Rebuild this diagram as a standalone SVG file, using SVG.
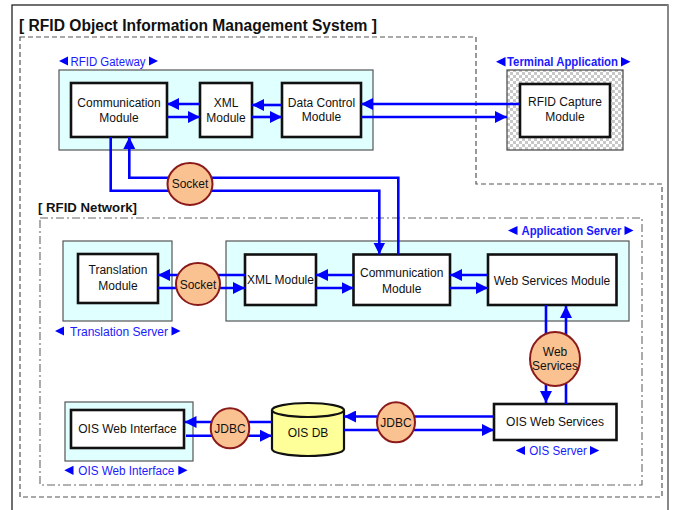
<svg xmlns="http://www.w3.org/2000/svg" width="677" height="510" viewBox="0 0 677 510">
  <defs>
    <style>
      .t { font-family: "Liberation Sans", Arial, sans-serif; font-size: 12px; fill: #111; text-anchor: middle; }
      .lbl { font-family: "Liberation Sans", Arial, sans-serif; font-size: 12px; fill: #1a1aff; }
      .lblb { font-family: "Liberation Sans", Arial, sans-serif; font-size: 12px; fill: #1a1aff; font-weight: bold; }
      .tri { fill: #0000ff; }
      .host { fill: #e0ffff; stroke: #555; stroke-width: 1.2; }
      .mod { fill: #fff; stroke: #111; stroke-width: 2.6; }
      .port { fill: #fbc291; stroke: #8b1a1a; stroke-width: 2; }
      .link { fill: none; stroke: #0000ff; stroke-width: 2.6; marker-end: url(#ah); }
      .link0 { fill: none; stroke: #0000ff; stroke-width: 2.6; }
    </style>
    <marker id="ah" markerUnits="userSpaceOnUse" markerWidth="12" markerHeight="12" viewBox="0 0 10 10" refX="10" refY="5" orient="auto">
      <path d="M0,0 L10,5 L0,10 Z" fill="#0000ff"/>
    </marker>
    <pattern id="checker" width="6" height="6" patternUnits="userSpaceOnUse">
      <rect width="6" height="6" fill="#fff"/>
      <rect width="3" height="3" fill="#c8c8c8"/>
      <rect x="3" y="3" width="3" height="3" fill="#c8c8c8"/>
    </pattern>
  </defs>

  <rect width="677" height="510" fill="#fff"/>

  <!-- page frame -->
  <rect x="12" y="5" width="656" height="515" fill="none" stroke="#111" stroke-width="1.2"/>
  <line x1="668" y1="5" x2="668" y2="510" stroke="#888" stroke-width="2"/>

  <text x="19" y="31" font-family="Liberation Sans, Arial, sans-serif" font-size="16" font-weight="bold" fill="#111" textLength="358" lengthAdjust="spacingAndGlyphs">[ RFID Object Information Management System ]</text>

  <!-- system boundary (dashed) -->
  <path d="M20,37 H476 V184 H662 V497 H20 Z" fill="none" stroke="#555" stroke-width="1.2" stroke-dasharray="5,3"/>

  <!-- RFID network boundary (dash-dot) -->
  <text x="38" y="212" font-family="Liberation Sans, Arial, sans-serif" font-size="13" font-weight="bold" fill="#111" textLength="99" lengthAdjust="spacingAndGlyphs">[ RFID Network]</text>
  <rect x="40" y="218" width="602" height="267" fill="none" stroke="#666" stroke-width="1.1" stroke-dasharray="8,3,2,3"/>

  <!-- RFID Gateway -->
  <g id="rfid-gateway">
    <polygon class="tri" points="68,56.5 68,65.5 59,61"/>
    <text class="lbl" x="70.5" y="65.5" textLength="75" lengthAdjust="spacingAndGlyphs">RFID Gateway</text>
    <polygon class="tri" points="149,56.5 149,65.5 158,61"/>
    <rect class="host" x="59" y="70" width="314" height="80"/>
  </g>
  <g id="gw-communication-module">
    <rect class="mod" x="71" y="83" width="96" height="54"/>
    <text class="t" x="119" y="107">Communication</text>
    <text class="t" x="119" y="121.5">Module</text>
  </g>
  <g id="gw-xml-module">
    <rect class="mod" x="200" y="83" width="52" height="54"/>
    <text class="t" x="226" y="107">XML</text>
    <text class="t" x="226" y="121.5">Module</text>
  </g>
  <g id="gw-data-control-module">
    <rect class="mod" x="282" y="83" width="79" height="54"/>
    <text class="t" x="321.5" y="107">Data Control</text>
    <text class="t" x="321.5" y="121">Module</text>
  </g>

  <!-- Terminal Application -->
  <g id="terminal-application">
    <polygon class="tri" points="505.5,57 505.5,66.5 496,61.8"/>
    <text class="lblb" x="507" y="66" textLength="111" lengthAdjust="spacingAndGlyphs">Terminal Application</text>
    <polygon class="tri" points="621,57 621,66.5 630.5,61.8"/>
    <rect x="507" y="70" width="116" height="80" fill="url(#checker)" stroke="#444" stroke-width="1.2"/>
  </g>
  <g id="rfid-capture-module">
    <rect class="mod" x="520" y="84" width="90" height="53"/>
    <text class="t" x="565" y="106">RFID Capture</text>
    <text class="t" x="565" y="120.5">Module</text>
  </g>

  <!-- Translation Server -->
  <g id="translation-server">
    <rect class="host" x="63" y="241" width="109" height="80"/>
    <polygon class="tri" points="64,326.5 64,335.5 55,331"/>
    <text class="lbl" x="70" y="335.5" textLength="98" lengthAdjust="spacingAndGlyphs">Translation Server</text>
    <polygon class="tri" points="171.5,326.5 171.5,335.5 180.5,331"/>
  </g>
  <g id="translation-module">
    <rect class="mod" x="78" y="254" width="80" height="49"/>
    <text class="t" x="118" y="274">Translation</text>
    <text class="t" x="118" y="290">Module</text>
  </g>

  <!-- Application Server -->
  <g id="application-server">
    <polygon class="tri" points="517.5,226 517.5,235 508,230.5"/>
    <text class="lblb" x="521.5" y="235" textLength="100" lengthAdjust="spacingAndGlyphs">Application Server</text>
    <polygon class="tri" points="624.5,226 624.5,235 633.5,230.5"/>
    <rect class="host" x="226" y="241" width="403" height="80"/>
  </g>
  <g id="app-xml-module">
    <rect class="mod" x="245" y="254.5" width="71" height="50.5"/>
    <text class="t" x="280.5" y="283.5">XML Module</text>
  </g>
  <g id="app-communication-module">
    <rect class="mod" x="353.5" y="254.5" width="96.5" height="50.5"/>
    <text class="t" x="401.7" y="277.3">Communication</text>
    <text class="t" x="401.7" y="292.7">Module</text>
  </g>
  <g id="web-services-module">
    <rect class="mod" x="488" y="254.5" width="128.5" height="50.5"/>
    <text class="t" x="552" y="284.5">Web Services Module</text>
  </g>

  <!-- OIS Web Interface host -->
  <g id="ois-web-interface-host">
    <rect class="host" x="65" y="402" width="128" height="59"/>
    <polygon class="tri" points="73.5,465.7 73.5,475 64.3,470.3"/>
    <text class="lbl" x="78.3" y="474.5" textLength="96" lengthAdjust="spacingAndGlyphs">OIS Web Interface</text>
    <polygon class="tri" points="178.3,465.7 178.3,475 187.5,470.3"/>
  </g>
  <g id="ois-web-interface">
    <rect class="mod" x="71" y="410" width="113" height="38"/>
    <text class="t" x="127.5" y="433.3">OIS Web Interface</text>
  </g>

  <!-- OIS DB -->
  <g id="ois-db">
    <path d="M272,410 V449 A36,7 0 0 0 344,449 V410" fill="#ffff99" stroke="#111" stroke-width="2.2"/>
    <ellipse cx="308" cy="410" rx="36" ry="7" fill="#ffff99" stroke="#111" stroke-width="2.2"/>
    <text class="t" x="308" y="437">OIS DB</text>
  </g>

  <!-- OIS Server -->
  <g id="ois-web-services">
    <rect class="mod" x="494" y="404" width="122.5" height="36"/>
    <text class="t" x="555" y="425.5">OIS Web Services</text>
    <polygon class="tri" points="525,446 525,455 515.7,450.5"/>
    <text class="lbl" x="529.3" y="454.5" textLength="57.5" lengthAdjust="spacingAndGlyphs">OIS Server</text>
    <polygon class="tri" points="590,446 590,455 599.3,450.5"/>
  </g>

  <!-- connectors -->
  <g id="connectors">
    <!-- gateway internals -->
    <line class="link" x1="200" y1="104" x2="167" y2="104"/>
    <line class="link" x1="167" y1="117" x2="200" y2="117"/>
    <line class="link" x1="282" y1="105" x2="252" y2="105"/>
    <line class="link" x1="252" y1="117" x2="282" y2="117"/>
    <!-- gateway to terminal -->
    <line class="link" x1="520" y1="104" x2="361" y2="104"/>
    <line class="link" x1="361" y1="117" x2="507" y2="117"/>
    <!-- gateway to application server -->
    <polyline class="link" points="110.7,137 110.7,190.7 379.3,190.7 379.3,254.5"/>
    <polyline class="link" points="398.3,254.5 398.3,177.7 129.3,177.7 129.3,137"/>
    <!-- application server internals -->
    <line class="link" x1="353.5" y1="275" x2="316" y2="275"/>
    <line class="link" x1="316" y1="288" x2="353.5" y2="288"/>
    <line class="link" x1="488" y1="275" x2="450" y2="275"/>
    <line class="link" x1="450" y1="288" x2="488" y2="288"/>
    <!-- xml to translation -->
    <line class="link" x1="245" y1="275" x2="158" y2="275"/>
    <line class="link" x1="158" y1="288" x2="245" y2="288"/>
    <!-- web services -->
    <line class="link" x1="546" y1="305" x2="546" y2="403"/>
    <line class="link" x1="566" y1="404" x2="566" y2="306"/>
    <!-- jdbc links -->
    <line class="link" x1="272" y1="422" x2="184.5" y2="422"/>
    <line class="link" x1="186" y1="435.7" x2="272" y2="435.7"/>
    <line class="link" x1="494" y1="416.5" x2="344" y2="416.5"/>
    <line class="link" x1="344" y1="430" x2="494" y2="430"/>
  </g>

  <!-- protocol ports -->
  <g id="socket-gateway">
    <ellipse class="port" cx="190" cy="184" rx="22.5" ry="21"/>
    <text class="t" x="190" y="188">Socket</text>
  </g>
  <g id="socket-translation">
    <ellipse class="port" cx="198" cy="284" rx="22" ry="21"/>
    <text class="t" x="198" y="288.5">Socket</text>
  </g>
  <g id="web-services-port">
    <ellipse class="port" cx="555" cy="359" rx="25" ry="27"/>
    <text class="t" x="555" y="356">Web</text>
    <text class="t" x="555" y="370">Services</text>
  </g>
  <g id="jdbc-left">
    <ellipse class="port" cx="230" cy="428.3" rx="19.3" ry="20"/>
    <text class="t" x="230" y="432.5" font-size="12.5">JDBC</text>
  </g>
  <g id="jdbc-right">
    <ellipse class="port" cx="396" cy="422.3" rx="19" ry="20"/>
    <text class="t" x="396" y="426.5" font-size="12.5">JDBC</text>
  </g>
</svg>
